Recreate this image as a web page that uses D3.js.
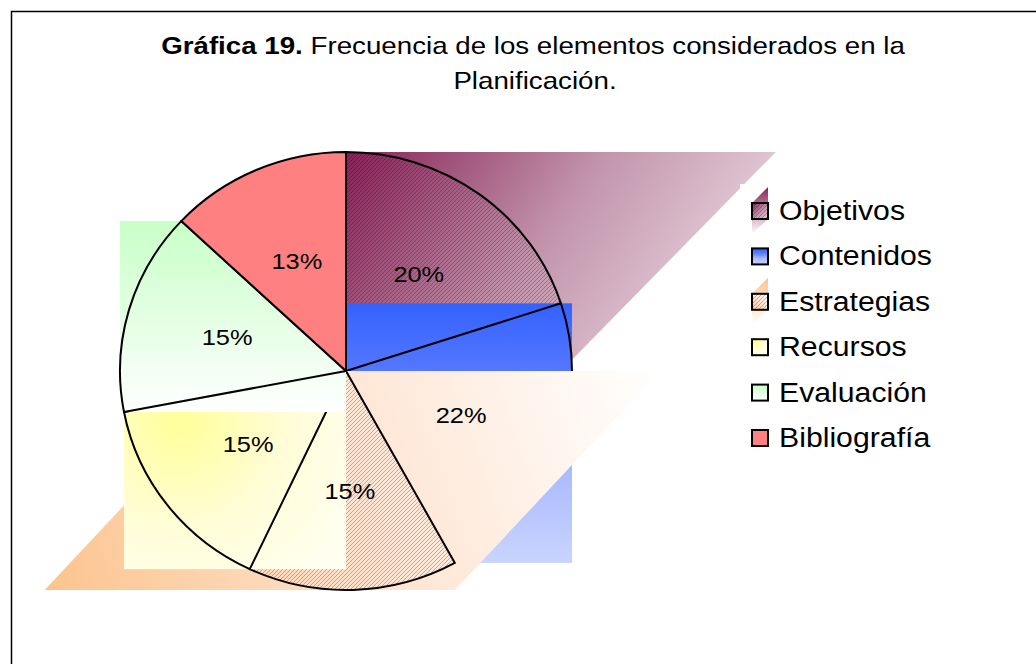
<!DOCTYPE html>
<html>
<head>
<meta charset="utf-8">
<script src="https://d3js.org/d3.v7.min.js"></script>
<style>
  body { margin: 0; background: #fff; }
  svg text { font-family: Arial, "Liberation Sans", sans-serif; fill: #000; }
</style>
</head>
<body>
<script>
// data
var categories = ["Objetivos", "Contenidos", "Estrategias", "Recursos", "Evaluación", "Bibliografía"];
var percents = [20, 22, 15, 15, 15, 13];
var titleBold = "Gráfica 19.";
var titleLines = ["Frecuencia de los elementos considerados en la", "Planificación."];

var w = 1036, h = 664;
var cx = 346, cy = 371, r = 219, sx = 226 / 219;   // pie is a bit wider than tall
var labelR = 120;
var stretch = 1.155;                                  // text is drawn wide, like the original

// fill look of each slice (old office gradients that spill over their box)
var looks = [
  {kind: "para", grad: "down", hatch: true, stops: [[0, "#862257"], [0.55, "#c294ab"], [1, "#e5cfd9"]]},
  {kind: "rect", grad: "vert", stops: [[0, "#3462ff"], [0.25, "#5376ff"], [0.65, "#abbbff"], [1, "#c9d4fd"]]},
  {kind: "para", grad: "up", hatch: true, stops: [[0, "#fcc48d"], [0.5, "#fee4d1"], [1, "#ffffff"]]},
  {kind: "rect", grad: "rad", stops: [[0, "#ffff99"], [0.5, "#fffdd6"], [1, "#fffff2"]]},
  {kind: "rect", grad: "vert", stops: [[0, "#c8ffc8"], [1, "#ffffff"]]},
  {kind: "slice", color: "#ff8080"}
];

var svg = d3.select("body").append("svg")
  .attr("width", w)
  .attr("height", h);
var defs = svg.append("defs");

//Chart frame
svg.append("rect")
  .attr("x", 11.5).attr("y", 11.5)
  .attr("width", w).attr("height", h)
  .attr("fill", "#fff")
  .attr("stroke", "#000")
  .attr("stroke-width", 1.5);

//Hatch pattern
var hatch = defs.append("pattern")
  .attr("id", "hatch")
  .attr("patternUnits", "userSpaceOnUse")
  .attr("width", 4).attr("height", 4);
hatch.append("path")
  .attr("d", "M-1,1 l2,-2 M0,4 l4,-4 M3,5 l2,-2")
  .attr("stroke", "rgba(0,0,0,0.33)")
  .attr("stroke-width", 0.8);

function addStops(g, stops) {
  stops.forEach(function(s) {
    g.append("stop").attr("offset", s[0]).attr("stop-color", s[1]);
  });
}

//Point on the (slightly elliptic) pie
function pt(a, rad) {
  return [cx + sx * rad * Math.sin(a), cy - rad * Math.cos(a)];
}

//Box of a slice, found from its arc
function sliceBox(d) {
  var xs = [cx], ys = [cy];
  for (var i = 0; i <= 80; i++) {
    var p = pt(d.startAngle + (d.endAngle - d.startAngle) * i / 80, r);
    xs.push(p[0]); ys.push(p[1]);
  }
  return {x0: d3.min(xs), x1: d3.max(xs), y0: d3.min(ys), y1: d3.max(ys)};
}

var pie = d3.pie().sort(null).value(function(d) { return d; });
var arcs = pie(percents);
var arc = d3.arc().innerRadius(0).outerRadius(r);
var labelArc = d3.arc().innerRadius(labelR).outerRadius(labelR);
var pieTransform = "translate(" + cx + "," + cy + ") scale(" + sx + ",1)";

var pieG = svg.append("g");

arcs.forEach(function(d, i) {
  var look = looks[i];
  var b = sliceBox(d);
  var bw = b.x1 - b.x0, bh = b.y1 - b.y0;
  var fill = look.color;

  if (look.grad) {
    var g;
    if (look.grad === "rad") {
      g = defs.append("radialGradient")
        .attr("gradientUnits", "userSpaceOnUse")
        .attr("cx", b.x0 + bw * 0.25).attr("cy", b.y0 + bh * 0.25)
        .attr("r", bw * 0.95);
    } else {
      var c;
      if (look.grad === "vert") c = [b.x0, b.y0, b.x0, b.y1];
      else if (look.grad === "down") c = [b.x0, b.y0, b.x1 + bw * 0.5, b.y1];
      else c = [b.x0 - bw, b.y1, b.x1 + bw, b.y0];
      g = defs.append("linearGradient")
        .attr("gradientUnits", "userSpaceOnUse")
        .attr("x1", c[0]).attr("y1", c[1]).attr("x2", c[2]).attr("y2", c[3]);
    }
    g.attr("id", "fill" + i);
    addStops(g, look.stops);
    fill = "url(#fill" + i + ")";
  }

  if (look.kind === "para") {
    pieG.append("polygon")
      .attr("points", [[b.x0, b.y0], [b.x1 + bw, b.y0], [b.x1, b.y1], [b.x0 - bw, b.y1]].join(" "))
      .attr("fill", fill);
  } else if (look.kind === "rect") {
    pieG.append("rect")
      .attr("x", b.x0).attr("y", b.y0)
      .attr("width", bw).attr("height", bh)
      .attr("fill", fill);
  } else {
    pieG.append("path")
      .attr("d", arc(d))
      .attr("transform", pieTransform)
      .attr("fill", fill);
  }

  if (look.hatch) {
    defs.append("clipPath").attr("id", "clip" + i)
      .append("path")
      .attr("d", arc(d))
      .attr("transform", pieTransform);
    pieG.append("rect")
      .attr("x", b.x0).attr("y", b.y0)
      .attr("width", bw).attr("height", bh)
      .attr("fill", "url(#hatch)")
      .attr("clip-path", "url(#clip" + i + ")");
  }

  //Slice outline
  pieG.append("path")
    .attr("d", arc(d))
    .attr("transform", pieTransform)
    .attr("fill", "none")
    .attr("stroke", "#000")
    .attr("stroke-width", 2)
    .attr("stroke-linejoin", "round")
    .attr("vector-effect", "non-scaling-stroke");
});

//Percent labels
svg.append("g")
  .selectAll("text")
  .data(arcs)
  .enter()
  .append("text")
    .attr("transform", function(d) {
      var c = labelArc.centroid(d);
      return "translate(" + (cx + sx * c[0]) + "," + (cy + c[1]) + ") scale(" + stretch + ",1)";
    })
    .attr("text-anchor", "middle")
    .attr("dy", "0.36em")
    .attr("font-size", 22)
    .text(function(d) { return d.value + "%"; });

//Title
var title = svg.append("text")
  .attr("transform", "translate(533,54) scale(" + stretch + ",1)")
  .attr("text-anchor", "middle")
  .attr("font-size", 24);
title.append("tspan").attr("font-weight", "bold").text(titleBold);
title.append("tspan").text(" " + titleLines[0]);
svg.append("text")
  .attr("transform", "translate(535,89) scale(" + stretch + ",1)")
  .attr("text-anchor", "middle")
  .attr("font-size", 24)
  .text(titleLines[1]);

//Legend
var lx = 752, ly = 203, step = 45.4, sw = 16;
var legend = svg.append("g");
legend.append("rect")
  .attr("x", 740).attr("y", 184)
  .attr("width", 210).attr("height", 280)
  .attr("fill", "#fff");

categories.forEach(function(name, i) {
  var look = looks[i];
  var y = ly + i * step;
  var fill = look.color;
  if (look.grad) {
    var g;
    if (look.grad === "rad") {
      g = defs.append("radialGradient").attr("cx", 0.25).attr("cy", 0.25).attr("r", 0.9);
    } else {
      var c = look.grad === "vert" ? [0, 0, 0, 1] : look.grad === "down" ? [0, 0, 1, 1] : [0, 1, 1, 0];
      g = defs.append("linearGradient")
        .attr("x1", c[0]).attr("y1", c[1]).attr("x2", c[2]).attr("y2", c[3]);
    }
    g.attr("id", "key" + i);
    addStops(g, look.stops);
    fill = "url(#key" + i + ")";
  }

  if (look.kind === "para") {
    //the little spill behind the key
    var s = defs.append("linearGradient").attr("id", "spill" + i)
      .attr("x1", 0).attr("y1", 0).attr("x2", 0).attr("y2", 1);
    addStops(s, [[0, look.stops[0][1]], [1, "#ffffff"]]);
    legend.append("polygon")
      .attr("points", [[lx + sw, y - sw], [lx + sw, y + sw], [lx, y + 2 * sw - 1], [lx, y]].join(" "))
      .attr("fill", "url(#spill" + i + ")");
  }

  legend.append("rect")
    .attr("x", lx).attr("y", y)
    .attr("width", sw).attr("height", sw)
    .attr("fill", fill)
    .attr("stroke", "#000")
    .attr("stroke-width", 2);
  if (look.hatch) {
    legend.append("rect")
      .attr("x", lx).attr("y", y)
      .attr("width", sw).attr("height", sw)
      .attr("fill", "url(#hatch)");
  }

  legend.append("text")
    .attr("transform", "translate(779," + (y + 17) + ") scale(1.12,1)")
    .attr("font-size", 27)
    .text(name);
});
</script>
</body>
</html>
